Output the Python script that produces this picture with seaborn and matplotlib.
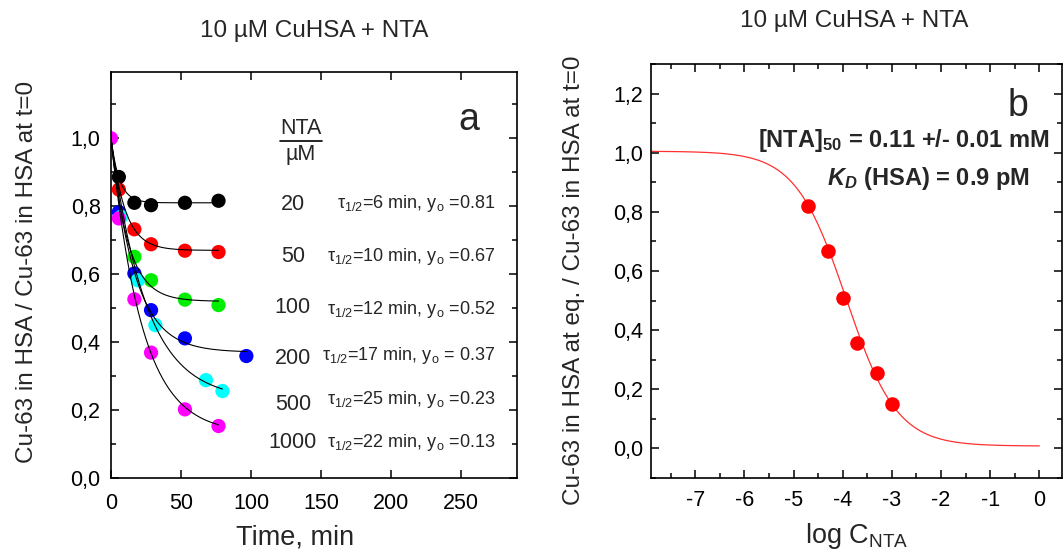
import numpy as np
import pandas as pd
import matplotlib
matplotlib.use("Agg")
import matplotlib.pyplot as plt
from matplotlib.ticker import MultipleLocator, FuncFormatter
import seaborn as sns

# -------------------------------
# data
# -------------------------------

# panel a: exchange kinetics, one series per NTA concentration (uM)
nta_conc = [20, 50, 100, 200, 500, 1000]
series_colors = ["#000000", "#ff0000", "#00ee00", "#0000ff", "#00ffff", "#ff00ff"]
tau_half = [6, 10, 12, 17, 25, 22]          # fit time constant, min
y_end = [0.81, 0.67, 0.52, 0.37, 0.23, 0.13]  # fitted plateau
y_end_text = ["0.81", "0.67", "0.52", " 0.37", "0.23", "0.13"]

time_20 = [5.6, 16.7, 28.6, 52.8, 76.8]
frac_20 = [0.886, 0.810, 0.803, 0.810, 0.816]
time_50 = [5.6, 16.7, 28.6, 52.8, 76.8]
frac_50 = [0.849, 0.732, 0.688, 0.669, 0.665]
time_100 = [16.7, 28.6, 52.8, 76.8]
frac_100 = [0.651, 0.582, 0.525, 0.509]
time_200 = [5.6, 16.7, 28.6, 52.8, 96.7]
frac_200 = [0.783, 0.602, 0.494, 0.411, 0.359]
time_500 = [7.2, 19.1, 31.7, 67.8, 79.6]
frac_500 = [0.769, 0.582, 0.450, 0.288, 0.256]
time_1000 = [0.0, 5.6, 16.7, 28.6, 52.8, 76.8]
frac_1000 = [1.0, 0.764, 0.526, 0.369, 0.202, 0.153]

times = [time_20, time_50, time_100, time_200, time_500, time_1000]
fracs = [frac_20, frac_50, frac_100, frac_200, frac_500, frac_1000]

# panel b: equilibrium fraction vs log C(NTA)
log_c_nta = [-4.70, -4.30, -4.00, -3.70, -3.30, -3.00]
frac_eq = [0.819, 0.666, 0.510, 0.357, 0.255, 0.150]
fit_top, fit_bottom = 1.005, 0.008
log_c50, hill_p = -3.93, 0.84

# -------------------------------
# tables for seaborn
# -------------------------------
df_pts = pd.concat(
    [pd.DataFrame({"t": t, "frac": f, "conc": c}) for t, f, c in zip(times, fracs, nta_conc)],
    ignore_index=True)

fit_rows = []
for c, t, tau, y0 in zip(nta_conc, times, tau_half, y_end):
    tt = np.linspace(0, max(t), 200)
    fit_rows.append(pd.DataFrame({"t": tt, "frac": y0 + (1 - y0) * np.exp(-tt / tau), "conc": c}))
df_fit = pd.concat(fit_rows, ignore_index=True)

df_eq = pd.DataFrame({"logc": log_c_nta, "frac": frac_eq})
xx = np.linspace(-7.9, 0, 300)
df_eq_fit = pd.DataFrame({"logc": xx,
                          "frac": fit_bottom + (fit_top - fit_bottom) / (1 + 10 ** (hill_p * (xx - log_c50)))})

# -------------------------------
# style
# -------------------------------
sns.set_theme(style="ticks")
plt.rcParams["font.family"] = ["Liberation Sans", "DejaVu Sans"]
plt.rcParams.update({
    "mathtext.fontset": "custom",
    "mathtext.rm": "Liberation Sans",
    "mathtext.it": "Liberation Sans:italic",
    "mathtext.bf": "Liberation Sans:bold",
    "mathtext.bfit": "Liberation Sans:bold:italic",
    "axes.unicode_minus": False,
    "axes.linewidth": 1.2,
    "axes.edgecolor": "black",
})

comma = FuncFormatter(lambda v, p: f"{v:.1f}".replace(".", ","))

fig = plt.figure(figsize=(10.63, 5.55), dpi=100)
ax1 = fig.add_axes([111 / 1063, 1 - 478 / 555, 406 / 1063, 406 / 555])
ax2 = fig.add_axes([651 / 1063, 1 - 478 / 555, 411 / 1063, 414 / 555])

# -------------------------------
# panel a
# -------------------------------
pal = dict(zip(nta_conc, series_colors))
sns.scatterplot(data=df_pts, x="t", y="frac", hue="conc", palette=pal, s=105,
                linewidth=0, legend=False, ax=ax1, zorder=2)
sns.lineplot(data=df_fit, x="t", y="frac", hue="conc", palette=["black"] * 6,
             lw=0.8, legend=False, ax=ax1, zorder=3, sort=False)

ax1.set_xlim(0, 290)
ax1.set_ylim(0, 1.195)
ax1.yaxis.set_major_locator(MultipleLocator(0.2))
ax1.yaxis.set_minor_locator(MultipleLocator(0.1))
ax1.yaxis.set_major_formatter(comma)
ax1.set_xticks([0, 50, 100, 150, 200, 250])
ax1.tick_params(axis="x", which="major", pad=10.5)
ax1.tick_params(axis="y", which="major", pad=7.5)

ax1.set_xlabel("Time, min", fontsize=19.5)
ax1.xaxis.set_label_coords(0.454, -0.115)
ax1.set_ylabel("Cu-63 in HSA / Cu-63 in HSA at t=0", fontsize=17.5, va="center")
ax1.yaxis.set_label_coords(-0.207, 0.508)

ax1.text(0.8825, 0.857, "a", transform=ax1.transAxes, fontsize=27, ha="center", va="baseline")
hdr = ax1.text(0.468, 0.847, "NTA", transform=ax1.transAxes, fontsize=15.5, ha="center", va="baseline")
ax1.text(0.466, 0.783, "\u00b5M", transform=ax1.transAxes, fontsize=15.5, ha="center", va="baseline")

conc_y = [0.659, 0.531, 0.406, 0.282, 0.167, 0.073]
fit_y = [0.664, 0.534, 0.404, 0.291, 0.183, 0.076]
for c, cy, fy, tau, ytxt in zip(nta_conc, conc_y, fit_y, tau_half, y_end_text):
    ax1.text(0.448, cy, str(c), transform=ax1.transAxes, fontsize=15.5, ha="center", va="baseline")
    ax1.text(0.946, fy, r"$\mathrm{\tau}_{1/2}$" + f"={tau} min, y" + r"$_\mathrm{o}$" + f" ={ytxt}",
             transform=ax1.transAxes, fontsize=13, ha="right", va="baseline")

# underline the NTA header
fig.canvas.draw()
bb = hdr.get_window_extent().transformed(ax1.transAxes.inverted())
ax1.plot([bb.x0, bb.x1], [bb.y0 - 0.004, bb.y0 - 0.004], transform=ax1.transAxes,
         color="black", lw=1.2, clip_on=False)

# -------------------------------
# panel b
# -------------------------------
sns.lineplot(data=df_eq_fit, x="logc", y="frac", color="#ff3030", lw=0.9, ax=ax2, zorder=2)
sns.scatterplot(data=df_eq, x="logc", y="frac", color="#ff0000", s=110, linewidth=0,
                ax=ax2, zorder=3)

ax2.set_xlim(-7.9, 0.46)
ax2.set_ylim(-0.1, 1.3)
ax2.xaxis.set_major_locator(MultipleLocator(1))
ax2.xaxis.set_minor_locator(MultipleLocator(0.5))
ax2.yaxis.set_major_locator(MultipleLocator(0.2))
ax2.yaxis.set_minor_locator(MultipleLocator(0.1))
ax2.yaxis.set_major_formatter(comma)
ax2.xaxis.set_major_formatter(FuncFormatter(lambda v, p: f"{v:.0f}"))
ax2.tick_params(axis="x", which="major", pad=8.5)
ax2.tick_params(axis="y", which="major", pad=5.5)

ax2.set_xlabel(r"log C$_\mathrm{NTA}$", fontsize=19.5)
ax2.xaxis.set_label_coords(0.501, -0.105)
ax2.set_ylabel("Cu-63 in HSA at eq. / Cu-63 in HSA at t=0", fontsize=17.5, va="center")
ax2.yaxis.set_label_coords(-0.187, 0.478)

ax2.text(0.892, 0.874, "b", transform=ax2.transAxes, fontsize=27, ha="center", va="baseline")
ax2.text(0.615, 0.799, r"[NTA]$_\mathbf{50}$ = 0.11 +/- 0.01 mM", transform=ax2.transAxes,
         fontsize=17, fontweight="bold", ha="center", va="baseline")
ax2.text(0.675, 0.708, r"$\mathbfit{K}_\mathbfit{D}$ (HSA) = 0.9 pM", transform=ax2.transAxes,
         fontsize=17, fontweight="bold", ha="center", va="baseline")

# shared tick styling
for ax in (ax1, ax2):
    ax.tick_params(which="both", direction="in", top=True, right=True, width=1.1,
                   labelsize=15.5, color="black", labelcolor="black")
    ax.tick_params(which="major", length=5.5)
    ax.tick_params(which="minor", length=3.5)
    for s in ax.spines.values():
        s.set_visible(True)
        s.set_linewidth(1.2)
    ax.set_facecolor("white")

# titles
fig.text(314.5 / 1063, 1 - 37.3 / 555, "10 \u00b5M CuHSA + NTA", fontsize=17.5, ha="center", va="baseline")
fig.text(854.5 / 1063, 1 - 27.3 / 555, "10 \u00b5M CuHSA + NTA", fontsize=17.5, ha="center", va="baseline")

fig.savefig("out.png", dpi=100, facecolor="white")
